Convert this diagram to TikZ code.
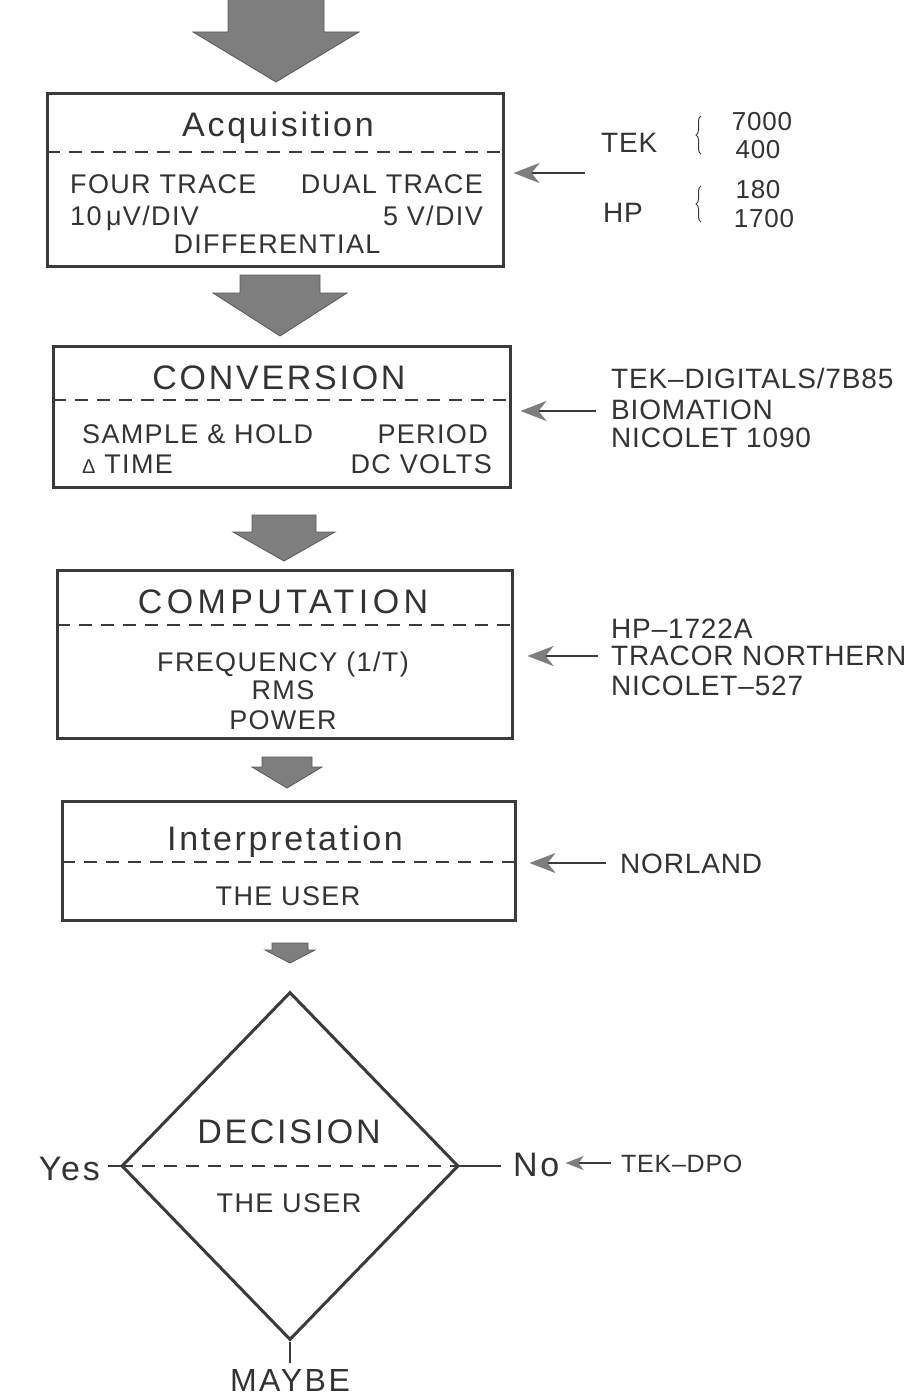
\documentclass[tikz,border=0pt]{standalone}
\usepackage{fontspec}
\setmainfont{Liberation Sans}
\newfontfamily\hfont[LetterSpace=8]{Liberation Sans}
\newfontfamily\hwfont[LetterSpace=13]{Liberation Sans}
\newfontfamily\bfont[LetterSpace=5]{Liberation Sans}
\newfontfamily\sfont[LetterSpace=3]{Liberation Sans}
\usetikzlibrary{shapes.geometric,arrows.meta,decorations.pathreplacing}
\definecolor{ink}{HTML}{3A3A3A}
\definecolor{txt}{HTML}{333333}
\definecolor{blockfill}{HTML}{7E7E7E}
\definecolor{blockedge}{HTML}{5A5A5A}
\tikzset{
  box/.style={draw=ink, line width=3pt, rectangle, inner sep=0pt},
  sep/.style={draw=ink, line width=1.4pt, dash pattern=on 13pt off 9pt},
  headtext/.style={font=\hfont\fontsize{34}{38}\selectfont, inner sep=0pt, text=txt},
  bodytext/.style={font=\bfont\fontsize{27}{31}\selectfont, inner sep=0pt, text=txt},
  sidetext/.style={font=\sfont\fontsize{28}{32}\selectfont, inner sep=0pt, text=txt},
  numtext/.style={font=\sfont\fontsize{26}{30}\selectfont, inner sep=0pt, text=txt},
  feed/.style={draw=ink, line width=2.5pt, -{Stealth[length=26pt, width=20pt, inset=8pt, color=blockfill]}},
  smallfeed/.style={draw=ink, line width=2pt, -{Stealth[length=18pt, width=14pt, inset=5pt, color=blockfill]}},
  blk/.style={fill=blockfill, draw=blockedge, line width=0.8pt},
  thinline/.style={draw=ink, line width=1.4pt},
  brc/.style={draw=ink, line width=1pt, decorate, decoration={brace, amplitude=5pt}}
}
\newcommand{\bigarrow}[6]{%
  \path[blk] ({#1-#2},#4) -- ({#1+#2},#4) -- ({#1+#2},#5) -- ({#1+#3},#5) -- (#1,#6) -- ({#1-#3},#5) -- ({#1-#2},#5) -- cycle;}
\begin{document}
\begin{tikzpicture}[x=1pt, y=-1pt]
\useasboundingbox (0,0) rectangle (915,1397);

% ---------- block arrows ----------
\bigarrow{276}{48}{83}{-2}{32}{82}
\bigarrow{280}{40}{67}{275}{293}{336}
\bigarrow{284}{32}{51}{515}{532}{561}
\bigarrow{287}{25}{35}{757}{767}{788}
\bigarrow{290}{18}{25}{943}{950}{963}

% ---------- Acquisition ----------
\node[box, minimum width=456pt, minimum height=173pt] (b1) at (275,179.5) {};
\draw[sep] (47,152) -- (503,152);
\node[headtext, anchor=base] (t1) at (278,136) {Acquisition};
\node[bodytext, anchor=base west] (t1a) at (70,193) {FOUR TRACE};
\node[bodytext, anchor=base east] (t1b) at (483,193) {DUAL TRACE};
\node[bodytext, anchor=base west] (t1c) at (70,225) {10\,μV/DIV};
\node[bodytext, anchor=base east] (t1d) at (483,225) {5 V/DIV};
\node[bodytext, anchor=base] (t1e) at (277,253) {DIFFERENTIAL};

\node[sidetext, anchor=base west] (tek) at (601,152) {TEK};
\node[sidetext, anchor=base west] (hp) at (603,222) {HP};
\node[numtext, anchor=base] (n7000) at (762,130) {7000};
\node[numtext, anchor=base] (n400) at (758,158) {400};
\node[numtext, anchor=base] (n180) at (758,198) {180};
\node[numtext, anchor=base] (n1700) at (764,227) {1700};
\draw[brc] (701,154) -- (701,116);
\draw[brc] (701,222) -- (701,186);
\coordinate (s1) at (585,173);
\draw[feed, shorten >=9pt] (s1) -- (s1 -| b1.east);

% ---------- CONVERSION ----------
\node[box, minimum width=457pt, minimum height=141pt] (b2) at (281.5,416.5) {};
\draw[sep] (53,400) -- (510,400);
\node[headtext, anchor=base] (t2) at (279,389) {CONVERSION};
\node[bodytext, anchor=base west] (t2a) at (82,443) {SAMPLE \& HOLD};
\node[bodytext, anchor=base east] (t2b) at (488,443) {PERIOD};
\node[bodytext, anchor=base west] (t2c) at (82,473) {{\fontsize{20}{22}\selectfont Δ} TIME};
\node[bodytext, anchor=base east] (t2d) at (492,473) {DC VOLTS};

\node[sidetext, anchor=base west] (r2a) at (611,388) {TEK–DIGITALS/7B85};
\node[sidetext, anchor=base west] (r2b) at (611,419) {BIOMATION};
\node[sidetext, anchor=base west] (r2c) at (611,447) {NICOLET 1090};
\coordinate (s2) at (596,411);
\draw[feed, shorten >=9pt] (s2) -- (s2 -| b2.east);

% ---------- COMPUTATION ----------
\node[box, minimum width=455pt, minimum height=168pt] (b3) at (284.5,654) {};
\draw[sep] (57,625) -- (512,625);
\node[headtext, font=\hwfont\fontsize{34}{38}\selectfont, anchor=base] (t3) at (283,613) {COMPUTATION};
\node[bodytext, anchor=base] (t3a) at (283,671) {FREQUENCY (1/T)};
\node[bodytext, anchor=base] (t3b) at (283,699) {RMS};
\node[bodytext, anchor=base] (t3c) at (283,729) {POWER};

\node[sidetext, anchor=base west] (r3a) at (611,638) {HP–1722A};
\node[sidetext, anchor=base west] (r3b) at (611,665) {TRACOR NORTHERN};
\node[sidetext, anchor=base west] (r3c) at (611,695) {NICOLET–527};
\coordinate (s3) at (598,656);
\draw[feed, shorten >=14pt] (s3) -- (s3 -| b3.east);

% ---------- Interpretation ----------
\node[box, minimum width=453pt, minimum height=119pt] (b4) at (288.5,860.5) {};
\draw[sep] (62,862) -- (515,862);
\node[headtext, anchor=base] (t4) at (285,850) {Interpretation};
\node[bodytext, anchor=base] (t4a) at (288,905) {THE USER};

\node[sidetext, anchor=base west] (r4) at (620,873) {NORLAND};
\coordinate (s4) at (606,863);
\draw[feed, shorten >=13pt] (s4) -- (s4 -| b4.east);

% ---------- DECISION ----------
\node[diamond, draw=ink, line width=3pt, inner sep=0pt, minimum width=337pt, minimum height=348pt] (dia) at (290,1166) {};
\draw[sep] (dia.west) -- (dia.east);
\node[headtext, anchor=base] (t5) at (289,1143) {DECISION};
\node[bodytext, anchor=base] (t5a) at (289,1212) {THE USER};

\node[headtext, anchor=base east] (yes) at (100,1180) {Yes};
\draw[thinline] (dia.west) -- ([xshift=8pt]yes.east |- dia.west);
\node[headtext, anchor=base west] (no) at (513,1176) {No};
\draw[thinline] (dia.east) -- ([xshift=-12pt]no.west |- dia.east);
\node[sidetext, font=\sfont\fontsize{25}{29}\selectfont, anchor=base west] (dpo) at (621,1172) {TEK–DPO};
\coordinate (s5) at (611,1163);
\draw[smallfeed, shorten >=6pt] (s5) -- (s5 -| no.east);
\node[headtext, font=\hfont\fontsize{32}{36}\selectfont, anchor=base] (maybe) at (290,1391) {MAYBE};
\draw[thinline] (dia.south) -- ([yshift=6pt]maybe.north);
\end{tikzpicture}
\end{document}
